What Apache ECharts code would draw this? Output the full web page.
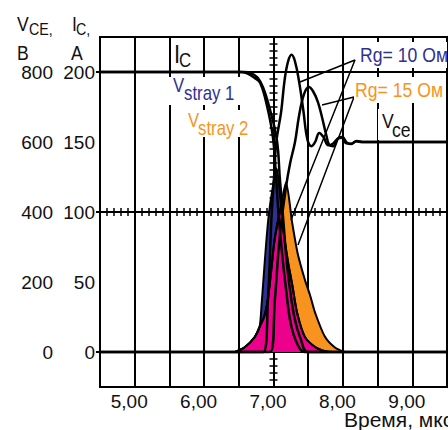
<!DOCTYPE html>
<html><head><meta charset="utf-8">
<script src="https://cdn.jsdelivr.net/npm/echarts@6/dist/echarts.min.js"></script>
<style>html,body{margin:0;padding:0;background:#fff}#c{width:448px;height:430px}</style>
</head><body><div id="c"></div>
<script>
// ---- data (time in µs; current in A; voltage in V) ----
const xTickLabels = [5, 6, 7, 8, 9];
const iTickLabels = [0, 50, 100, 150, 200];
const vTickLabels = [0, 200, 400, 600, 800];
const iMajorTicks = [0, 100, 200];

const vceRg10 = [[4.5,0],[6.85,0],[6.92,150],[6.97,380],[7.01,506],[7.04,600],[7.11,686],[7.16,777],[7.21,830],[7.26,849],[7.31,830],[7.37,771],[7.43,690],[7.49,606],[7.55,588],[7.60,600],[7.66,626],[7.72,614],[7.79,591],[7.86,596],[7.94,612],[7.99,614],[8.06,598],[8.12,594],[8.19,602],[8.25,600],[9.5,600]];
const vceRg15 = [[4.5,0],[6.95,0],[7.02,150],[7.09,330],[7.18,471],[7.24,540],[7.31,600],[7.37,677],[7.44,737],[7.51,757],[7.57,745],[7.64,714],[7.70,670],[7.76,620],[7.81,590],[7.86,588],[7.93,610],[7.99,612],[8.05,596],[8.12,595],[8.20,603],[8.30,600],[9.5,600]];
const icRg10 = [[4.5,200],[6.52,200],[6.62,199],[6.72,196],[6.81,192],[6.91,175],[6.99,154],[7.03,130],[7.07,100],[7.12,72],[7.18,45],[7.25,20],[7.35,5],[7.45,0],[9.5,0]];
const icRg15 = [[4.5,200],[6.58,200],[6.68,199],[6.77,196],[6.85,189],[6.95,173],[7.05,151],[7.09,125],[7.14,95],[7.20,60],[7.30,25],[7.40,8],[7.50,0],[9.5,0]];
const vstray1 = [[6.45,0],[6.59,3.6],[6.73,10.7],[6.80,18],[6.83,35],[6.86,55],[6.89,75],[6.93,97],[6.99,118],[7.045,131],[7.09,114],[7.14,88],[7.21,64],[7.27,48],[7.34,28],[7.45,11],[7.60,3.6],[7.75,0.5],[7.85,0]];
const vstray2 = [[6.45,0],[6.59,3.6],[6.73,10.7],[6.80,18],[6.87,26],[6.92,38],[6.96,55],[7.01,78],[7.05,90],[7.10,102],[7.18,121],[7.27,92],[7.35,70],[7.45,52],[7.53,40],[7.60,28],[7.74,11],[7.89,3],[8.03,0]];
const vstrayOverlap = [[6.45,0],[6.59,3.6],[6.73,10.7],[6.80,18],[6.87,26],[6.92,38],[6.96,55],[7.01,78],[7.05,90],[7.10,102],[7.113,104],[7.14,88],[7.21,64],[7.27,48],[7.34,28],[7.45,11],[7.60,3.6],[7.75,0.5],[7.85,0]];
const leaderRg10 = [[7.382,192.9],[8.174,208.6],[7.252,94.3]];
const leaderRg15 = [[7.699,176.4],[8.160,182.1],[7.353,76.4]];

const FONT = '"Liberation Sans", Arial, sans-serif';
const NARROW = 0.84;
const BLUE = '#2e3192', ORANGE = '#f7931e', PINK = '#ec008c';

const chart = echarts.init(document.getElementById('c'), null, {renderer: 'svg'});

function curve(name, data, yIdx, width) {
  return {name, type: 'line', data, yAxisIndex: yIdx, symbol: 'none', smooth: 0.4,
    lineStyle: {color: '#000', width: width}, silent: true};
}
function area(name, data, color) {
  return {name, type: 'line', data, yAxisIndex: 0, symbol: 'none', smooth: 0.25,
    lineStyle: {color: '#000', width: 2}, areaStyle: {color, opacity: 1}, silent: true};
}
function leader(name, data) {
  return {name, type: 'line', data, yAxisIndex: 0, symbol: 'none', smooth: false,
    lineStyle: {color: '#000', width: 1.5}, silent: true};
}
function centerX(inside) {
  return {type: 'value', min: 4.5, max: 9.5, interval: 0.5, position: 'bottom', offset: -175,
    axisLine: {show: true, onZero: false, lineStyle: {color: '#000', width: 2}},
    axisTick: {show: true, inside, length: 4, lineStyle: {color: '#000', width: 1.5}},
    minorTick: {show: true, splitNumber: 5, length: 4, lineStyle: {color: '#000', width: 1.5}},
    axisLabel: {show: false}, splitLine: {show: false}};
}
function centerY(inside) {
  return {type: 'value', min: -25, max: 225, interval: 25, position: 'left', offset: -173.5,
    axisLine: {show: true, onZero: false, lineStyle: {color: '#000', width: 2}},
    axisTick: {show: true, inside, length: 4, lineStyle: {color: '#000', width: 1.5}},
    minorTick: {show: true, splitNumber: 5, length: 4, lineStyle: {color: '#000', width: 1.5}},
    axisLabel: {show: false}, splitLine: {show: false}};
}
function txt(text, x, y, size, color, sx) {
  return {type: 'text', x, y, scaleX: sx || NARROW, z: 200, silent: true,
    style: {text, font: size + 'px ' + FONT, fill: color || '#111', verticalAlign: 'middle', align: 'left'}};
}
function box(x, y, w, h) {
  return {type: 'rect', z: 150, silent: true, shape: {x, y, width: w, height: h}, style: {fill: '#fff'}};
}

chart.setOption({
  animation: false,
  backgroundColor: '#fff',
  grid: {left: 100, right: 1, top: 37, bottom: 43, show: true, borderColor: '#000', borderWidth: 2},
  xAxis: [
    {type: 'value', min: 4.5, max: 9.5, interval: 0.5,
      axisLine: {show: true, onZero: false, lineStyle: {color: '#000', width: 2}},
      axisTick: {show: false},
      splitLine: {show: true, lineStyle: {color: '#000', width: 2}},
      axisLabel: {show: true, customValues: xTickLabels, margin: 5, padding: [0, 11, 0, 0],
        fontFamily: FONT, fontSize: 19, color: '#111',
        formatter: v => xTickLabels.indexOf(v) >= 0 ? v.toFixed(2).replace('.', ',') : ''}},
    centerX(true), centerX(false)
  ],
  yAxis: [
    {type: 'value', min: -25, max: 225, interval: 25,
      axisLine: {show: true, onZero: false, lineStyle: {color: '#000', width: 2}},
      axisTick: {show: true, customValues: iMajorTicks, length: 4, lineStyle: {color: '#000', width: 2}},
      splitLine: {show: true, lineStyle: {color: '#000', width: 2}},
      axisLabel: {show: true, customValues: iTickLabels, margin: 5, fontFamily: FONT, fontSize: 19, color: '#111',
        formatter: v => iTickLabels.indexOf(v) >= 0 ? String(v) : ''}},
    {type: 'value', min: -100, max: 900, interval: 100, position: 'left', offset: 42,
      axisLine: {show: false}, axisTick: {show: false}, splitLine: {show: false},
      axisLabel: {show: true, customValues: vTickLabels, margin: 5, fontFamily: FONT, fontSize: 19, color: '#111',
        formatter: v => vTickLabels.indexOf(v) >= 0 ? String(v) : ''}},
    centerY(true), centerY(false)
  ],
  series: [
    curve('Ic Rg=10', icRg10, 0, 2.5),
    curve('Ic Rg=15', icRg15, 0, 2.5),
    curve('Vce Rg=10', vceRg10, 1, 2.5),
    curve('Vce Rg=15', vceRg15, 1, 2.5),
    leader('leader Rg=10', leaderRg10),
    leader('leader Rg=15', leaderRg15),
    area('Vstray 2', vstray2, ORANGE),
    area('Vstray 1', vstray1, BLUE),
    area('overlap', vstrayOverlap, PINK)
  ],
  graphic: [
    // axis titles
    txt('V', 17, 23.5, 21), txt('CE,', 29, 29.5, 17),
    txt('B', 17, 52, 21),
    txt('I', 72, 23.5, 21), txt('C,', 76, 29.5, 17),
    txt('A', 71, 52, 21),
    txt('Время, мкс', 344, 419.5, 21, '#111', 1),
    // in-plot labels
    box(172, 40, 22, 30), txt('I', 174, 53.5, 26), txt('C', 179, 59.5, 20),
    box(168, 77, 72, 28), txt('V', 173, 85, 20, BLUE), txt('stray 1', 184, 93, 20, BLUE),
    box(185, 110, 67, 27), txt('V', 188, 120, 20, ORANGE), txt('stray 2', 198, 128, 20, ORANGE),
    box(357, 42, 90, 26), txt('Rg= 10 Ом', 360, 54.5, 21, BLUE),
    box(354, 77, 87, 26), txt('Rg= 15 Ом', 355, 89.5, 21, ORANGE),
    box(378, 109, 33, 31), txt('V', 382, 120.5, 21), txt('ce', 392, 129.5, 21)
  ]
});
</script>
</body></html>
